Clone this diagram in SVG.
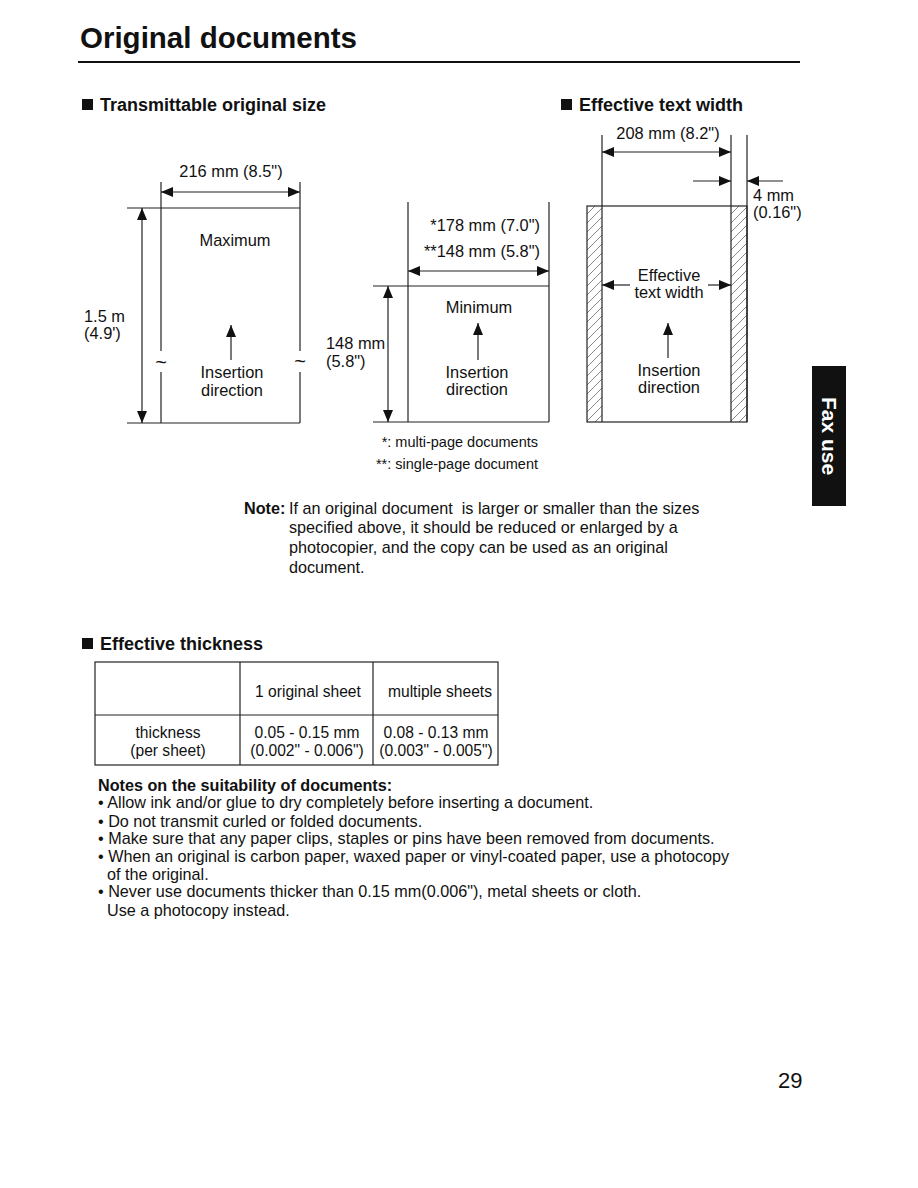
<svg xmlns="http://www.w3.org/2000/svg" width="918" height="1188" viewBox="0 0 918 1188">
<style>
text{font-family:"Liberation Sans",Arial,sans-serif;fill:#111}
.t{font-size:16.4px}
.b{font-size:16.2px}
.tb{font-size:15.6px}
.h{font-size:18px;font-weight:bold}
.c{text-anchor:middle}
.ln{stroke:#222;stroke-width:1.2;fill:none}
.dim{stroke:#222;stroke-width:1.2;fill:none;marker-start:url(#ah);marker-end:url(#ah)}
.one{stroke:#222;stroke-width:1.2;fill:none;marker-end:url(#ah)}
</style>
<defs>
<marker id="ah" viewBox="0 0 12 10" refX="12" refY="5" markerWidth="12" markerHeight="10" markerUnits="userSpaceOnUse" orient="auto-start-reverse">
<path d="M0,0 L12,5 L0,10 z" fill="#111"/>
</marker>
<pattern id="hatch" patternUnits="userSpaceOnUse" width="9" height="9">
<path d="M-2,11 L11,-2 M-2,2 L2,-2 M7,11 L11,7" stroke="#555" stroke-width="0.7"/>
</pattern>
</defs>
<rect width="918" height="1188" fill="#fff"/>

<g id="title">
<text x="80" y="48" style="font-size:29.5px;font-weight:bold">Original documents</text>
<line x1="78" y1="62" x2="800" y2="62" stroke="#111" stroke-width="2"/>
</g>

<g id="headings">
<rect x="82" y="99" width="11" height="11" fill="#111"/>
<text x="100" y="111" class="h">Transmittable original size</text>
<rect x="561" y="99" width="11" height="11" fill="#111"/>
<text x="579" y="111" class="h">Effective text width</text>
</g>

<g id="maximum">
<text x="231" y="177" class="t c">216 mm (8.5")</text>
<line x1="161" y1="182" x2="161" y2="351" class="ln"/>
<line x1="161" y1="372" x2="161" y2="423" class="ln"/>
<line x1="300" y1="182" x2="300" y2="351" class="ln"/>
<line x1="300" y1="372" x2="300" y2="423" class="ln"/>
<line x1="127" y1="208" x2="300" y2="208" class="ln"/>
<line x1="127" y1="423" x2="300" y2="423" class="ln"/>
<text x="235" y="246" class="t c">Maximum</text>
<text x="84" y="322" class="t">1.5 m</text>
<text x="84" y="339" class="t">(4.9')</text>
<text x="161" y="369" class="c" style="font-size:20px">~</text>
<text x="300" y="368" class="c" style="font-size:20px">~</text>
<text x="232" y="378" class="t c">Insertion</text>
<text x="232" y="396" class="t c">direction</text>
</g>

<g id="minimum">
<line x1="408" y1="202" x2="408" y2="422" class="ln"/>
<line x1="549" y1="202" x2="549" y2="422" class="ln"/>
<line x1="373" y1="286" x2="549" y2="286" class="ln"/>
<line x1="373" y1="422" x2="549" y2="422" class="ln"/>
<text x="540" y="231" class="t" text-anchor="end">*178 mm (7.0")</text>
<text x="540" y="257" class="t" text-anchor="end">**148 mm (5.8")</text>
<text x="479" y="313" class="t c">Minimum</text>
<text x="326" y="349" class="t">148 mm</text>
<text x="326" y="367" class="t">(5.8")</text>
<text x="477" y="378" class="t c">Insertion</text>
<text x="477" y="395" class="t c">direction</text>
</g>

<g id="effective">
<rect x="587" y="206" width="15" height="216" fill="url(#hatch)"/>
<rect x="731" y="206" width="16" height="216" fill="url(#hatch)"/>
<rect x="587" y="206" width="160" height="216" class="ln"/>
<line x1="602" y1="135" x2="602" y2="422" class="ln"/>
<line x1="731" y1="135" x2="731" y2="422" class="ln"/>
<line x1="747" y1="135" x2="747" y2="422" class="ln"/>
<text x="668" y="139" class="t c">208 mm (8.2")</text>
<text x="753" y="201" class="t">4 mm</text>
<text x="753" y="218" class="t">(0.16")</text>
<text x="669" y="281" class="t c">Effective</text>
<text x="669" y="298" class="t c">text width</text>
<text x="669" y="376" class="t c">Insertion</text>
<text x="669" y="393" class="t c">direction</text>
</g>

<g id="connectors">
<line x1="161" y1="192" x2="300" y2="192" class="dim"/>
<line x1="142" y1="208" x2="142" y2="423" class="dim"/>
<line x1="231" y1="360" x2="231" y2="325" class="one"/>
<line x1="408" y1="271" x2="549" y2="271" class="dim"/>
<line x1="388" y1="286" x2="388" y2="422" class="dim"/>
<line x1="478" y1="360" x2="478" y2="323" class="one"/>
<line x1="602" y1="152" x2="731" y2="152" class="dim"/>
<line x1="693" y1="181" x2="731" y2="181" class="one"/>
<line x1="783" y1="181" x2="747" y2="181" class="one"/>
<line x1="630" y1="285" x2="602" y2="285" class="one"/>
<line x1="708" y1="285" x2="731" y2="285" class="one"/>
<line x1="668" y1="358" x2="668" y2="323" class="one"/>
</g>

<g id="footnotes">
<text x="538" y="447" text-anchor="end" style="font-size:14.5px">*: multi-page documents</text>
<text x="538" y="469" text-anchor="end" style="font-size:14.5px">**: single-page document</text>
</g>

<g id="tab">
<rect x="812" y="366" width="34" height="140" fill="#111"/>
<text transform="translate(822,436) rotate(90)" text-anchor="middle" style="font-size:21px;font-weight:bold;fill:#fff">Fax use</text>
</g>

<g id="note">
<text x="244" y="514" class="b" style="font-weight:bold">Note:</text>
<text x="289" y="514" class="b" xml:space="preserve">If an original document  is larger or smaller than the sizes</text>
<text x="289" y="533" class="b">specified above, it should be reduced or enlarged by a</text>
<text x="289" y="553" class="b">photocopier, and the copy can be used as an original</text>
<text x="289" y="573" class="b">document.</text>
</g>

<g id="thickness">
<rect x="82" y="638" width="11" height="11" fill="#111"/>
<text x="100" y="650" class="h">Effective thickness</text>
<rect x="95" y="662" width="403" height="103" class="ln"/>
<line x1="95" y1="715" x2="498" y2="715" class="ln"/>
<line x1="240" y1="662" x2="240" y2="765" class="ln"/>
<line x1="373" y1="662" x2="373" y2="765" class="ln"/>
<text x="308" y="697" class="tb c">1 original sheet</text>
<text x="440" y="697" class="tb c">multiple sheets</text>
<text x="168" y="738" class="tb c">thickness</text>
<text x="168" y="756" class="tb c">(per sheet)</text>
<text x="307" y="738" class="tb c">0.05 - 0.15 mm</text>
<text x="307" y="756" class="tb c">(0.002" - 0.006")</text>
<text x="436" y="738" class="tb c">0.08 - 0.13 mm</text>
<text x="436" y="756" class="tb c">(0.003" - 0.005")</text>
</g>

<g id="notes">
<text x="98" y="791" class="b" style="font-weight:bold">Notes on the suitability of documents:</text>
<text x="98" y="808" class="b">• Allow ink and/or glue to dry completely before inserting a document.</text>
<text x="98" y="827" class="b">• Do not transmit curled or folded documents.</text>
<text x="98" y="844" class="b">• Make sure that any paper clips, staples or pins have been removed from documents.</text>
<text x="98" y="862" class="b">• When an original is carbon paper, waxed paper or vinyl-coated paper, use a photocopy</text>
<text x="107" y="880" class="b">of the original.</text>
<text x="98" y="897" class="b">• Never use documents thicker than 0.15 mm(0.006"), metal sheets or cloth.</text>
<text x="107" y="916" class="b">Use a photocopy instead.</text>
</g>

<text x="778" y="1088" style="font-size:22px">29</text>
</svg>
